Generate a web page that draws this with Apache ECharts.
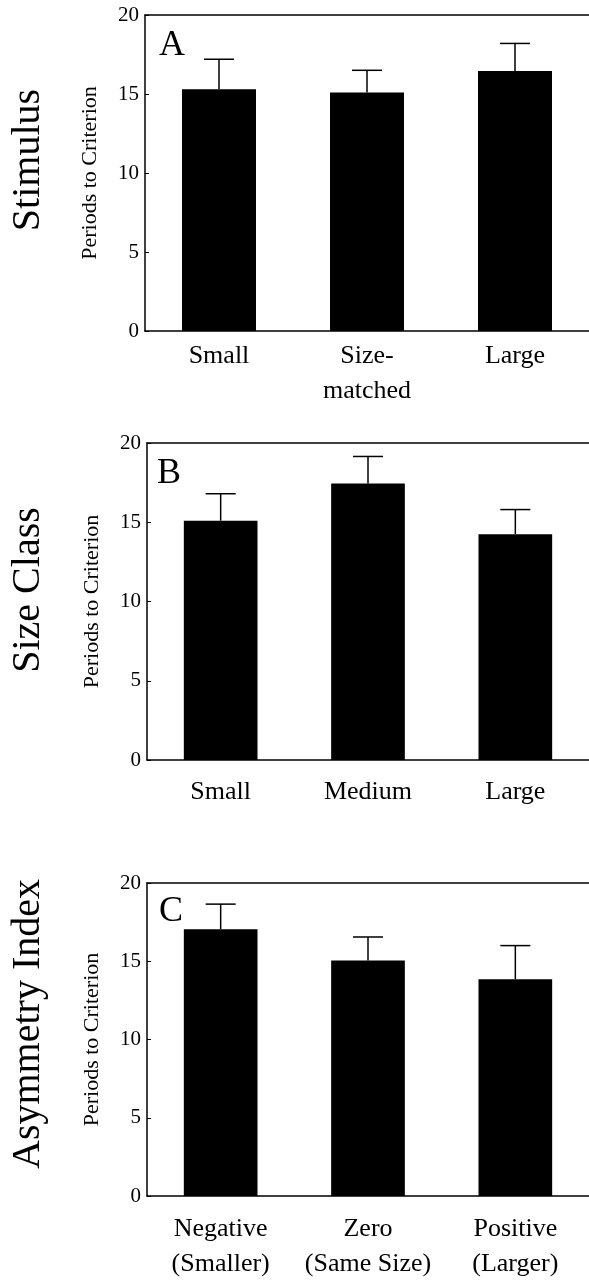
<!DOCTYPE html>
<html>
<head>
<meta charset="utf-8">
<script src="https://cdn.jsdelivr.net/npm/echarts@6/dist/echarts.min.js"></script>
<style>
  html, body { margin: 0; padding: 0; background: #fff; }
  #main { width: 589px; height: 1282px; }
</style>
</head>
<body>
<div id="main"></div>
<script>
// panel A - stimulus
const catsA = ['Small', 'Size-\nmatched', 'Large'];
const meanA = [15.3, 15.1, 16.45];
const errA = [1.9, 1.4, 1.75];
// panel B - size class
const catsB = ['Small', 'Medium', 'Large'];
const meanB = [15.1, 17.45, 14.25];
const errB = [1.7, 1.7, 1.55];
// panel C - asymmetry index
const catsC = ['Negative\n(Smaller)', 'Zero\n(Same Size)', 'Positive\n(Larger)'];
const meanC = [17.05, 15.05, 13.85];
const errC = [1.6, 1.5, 2.15];

const rowNames = ['Stimulus', 'Size Class', 'Asymmetry Index'];
const letters = ['A', 'B', 'C'];
const yName = 'Periods to Criterion';

const font = '"Liberation Serif", "Times New Roman", serif';

const grids = [
  { left: 145, top: 15, right: 0, height: 316 },
  { left: 147, top: 443, right: 0, height: 317 },
  { left: 147, top: 883, right: 0, height: 317 }
];
const labelMargin = [8, 15, 16];
const rowCenter = [160, 590, 1024];
const letterPos = [[159, 46], [157, 474], [159, 912]];

const cats = [catsA, catsB, catsC];
const means = [meanA, meanB, meanC];
const errs = [errA, errB, errC];

let myChart = echarts.init(document.getElementById('main'));

const xAxis = [];
const yAxis = [];
const series = [];
const graphic = [];

for (let i = 0; i < 3; i++) {
  xAxis.push({
    type: 'category',
    gridIndex: i,
    data: cats[i],
    axisLine: { lineStyle: { color: '#000', width: 1.5 } },
    axisTick: { show: false },
    axisLabel: {
      color: '#000', fontFamily: font, fontSize: 26, lineHeight: 35,
      margin: labelMargin[i], interval: 0
    }
  });
  // top frame line
  xAxis.push({
    type: 'category',
    gridIndex: i,
    position: 'top',
    data: cats[i],
    axisLine: { lineStyle: { color: '#000', width: 1.5 } },
    axisTick: { show: false },
    axisLabel: { show: false }
  });
  yAxis.push({
    type: 'value',
    gridIndex: i,
    min: 0,
    max: 20,
    interval: 5,
    name: yName,
    nameLocation: 'middle',
    nameGap: 44,
    nameTextStyle: { color: '#000', fontFamily: font, fontSize: 22 },
    axisLine: { show: true, lineStyle: { color: '#000', width: 1.5 } },
    axisTick: { show: true, inside: true, length: 4, lineStyle: { color: '#000' } },
    axisLabel: { color: '#000', fontFamily: font, fontSize: 21, margin: 6 },
    splitLine: { show: false }
  });
  series.push({
    type: 'bar',
    xAxisIndex: i * 2,
    yAxisIndex: i,
    data: means[i],
    barWidth: '50%',
    itemStyle: { color: '#000' },
    silent: true
  });
  series.push({
    type: 'custom',
    xAxisIndex: i * 2,
    yAxisIndex: i,
    data: means[i].map((m, k) => [k, m, errs[i][k]]),
    renderItem: function (params, api) {
      const k = api.value(0);
      const m = api.value(1);
      const e = api.value(2);
      const base = api.coord([k, m]);
      const top = api.coord([k, m + e]);
      const half = 15;
      return {
        type: 'group',
        children: [
          {
            type: 'line',
            shape: { x1: base[0], y1: base[1], x2: top[0], y2: top[1] },
            style: { stroke: '#000', lineWidth: 1.5 }
          },
          {
            type: 'line',
            shape: { x1: top[0] - half, y1: top[1], x2: top[0] + half, y2: top[1] },
            style: { stroke: '#000', lineWidth: 1.5 }
          }
        ]
      };
    },
    z: 5
  });
  graphic.push({
    type: 'text',
    x: 28,
    y: rowCenter[i],
    rotation: Math.PI / 2,
    style: {
      text: rowNames[i], fill: '#000',
      font: '40px ' + font,
      textAlign: 'center', textVerticalAlign: 'middle'
    }
  });
  graphic.push({
    type: 'text',
    x: letterPos[i][0],
    y: letterPos[i][1],
    style: {
      text: letters[i], fill: '#000',
      font: '36px ' + font,
      textAlign: 'left', textVerticalAlign: 'middle'
    }
  });
}

myChart.setOption({
  animation: false,
  backgroundColor: '#fff',
  grid: grids,
  xAxis: xAxis,
  yAxis: yAxis,
  series: series,
  graphic: graphic
});
</script>
</body>
</html>
